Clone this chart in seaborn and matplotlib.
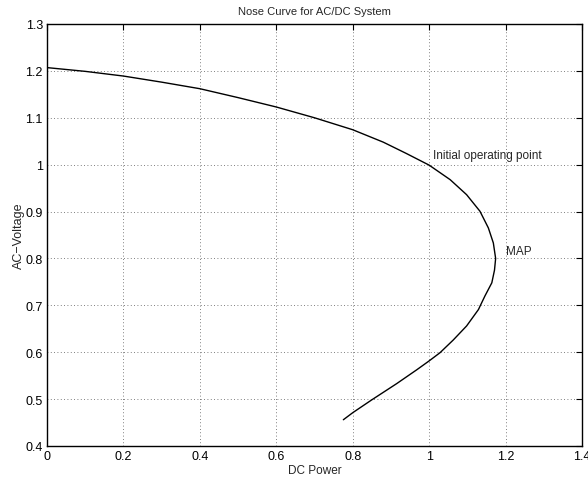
import matplotlib
matplotlib.use("Agg")
import matplotlib.pyplot as plt
import seaborn as sns
import pandas as pd

# Data (upper branch -> nose -> lower branch)
dc_power = [0.0, 0.1, 0.2, 0.3, 0.4, 0.5, 0.6, 0.7, 0.8, 0.88, 0.94, 1.0,
            1.055, 1.098, 1.133, 1.155, 1.168, 1.174, 1.171, 1.164, 1.146, 1.129,
            1.098, 1.063, 1.0285, 1.0, 0.9675, 0.915, 0.85, 0.8, 0.7755]
ac_voltage = [1.207, 1.199, 1.189, 1.176, 1.162, 1.143, 1.123, 1.100, 1.0745, 1.048, 1.024,
              0.999, 0.968, 0.936, 0.9006, 0.865, 0.833, 0.80, 0.775, 0.748,
              0.72, 0.691, 0.656, 0.626, 0.599, 0.5815, 0.5625, 0.533, 0.4985, 0.471, 0.456]

x_ticks = [0, 0.2, 0.4, 0.6, 0.8, 1, 1.2, 1.4]
x_tick_labels = ["0", "0.2", "0.4", "0.6", "0.8", "1", "1.2", "1.4"]
y_ticks = [0.4, 0.5, 0.6, 0.7, 0.8, 0.9, 1.0, 1.1, 1.2, 1.3]
y_tick_labels = ["0.4", "0.5", "0.6", "0.7", "0.8", "0.9", "1", "1.1", "1.2", "1.3"]

title = "Nose Curve for AC/DC System"
x_label = "DC Power"
y_label = "AC\u2212Voltage"
annotations = [("Initial operating point", 1.01, 1.021), ("MAP", 1.2, 0.815)]

sns.set_style("white")
plt.rcParams["font.family"] = ["Liberation Sans", "DejaVu Sans"]

df = pd.DataFrame({"x": dc_power, "y": ac_voltage})

fig = plt.figure(figsize=(5.88, 4.81), dpi=100)
ax = fig.add_axes([47 / 588, 1 - 447 / 481, (582 - 47) / 588, (447 - 25) / 481])

sns.lineplot(data=df, x="x", y="y", sort=False, estimator=None, color="black",
             linewidth=1.0, ax=ax)

ax.set_xlim(0, 1.4)
ax.set_ylim(0.4, 1.3)
ax.set_xticks(x_ticks)
ax.set_xticklabels(x_tick_labels)
ax.set_yticks(y_ticks)
ax.set_yticklabels(y_tick_labels)
ax.grid(True, linestyle=(0, (1, 3)), color="#555555", linewidth=0.6)
ax.tick_params(direction="in", length=4, width=0.8, top=True, right=True,
               labelsize=9, pad=3, colors="black")
for s in ax.spines.values():
    s.set_visible(True)
    s.set_color("black")
    s.set_linewidth(1.0)

ax.set_title(title, fontsize=8, pad=7)
ax.set_xlabel(x_label, fontsize=8.5, labelpad=1)
ax.set_ylabel(y_label, fontsize=9, labelpad=0)

for txt, tx, ty in annotations:
    ax.text(tx, ty, txt, fontsize=8.5, ha="left", va="center")

fig.savefig("out.png", dpi=100)
